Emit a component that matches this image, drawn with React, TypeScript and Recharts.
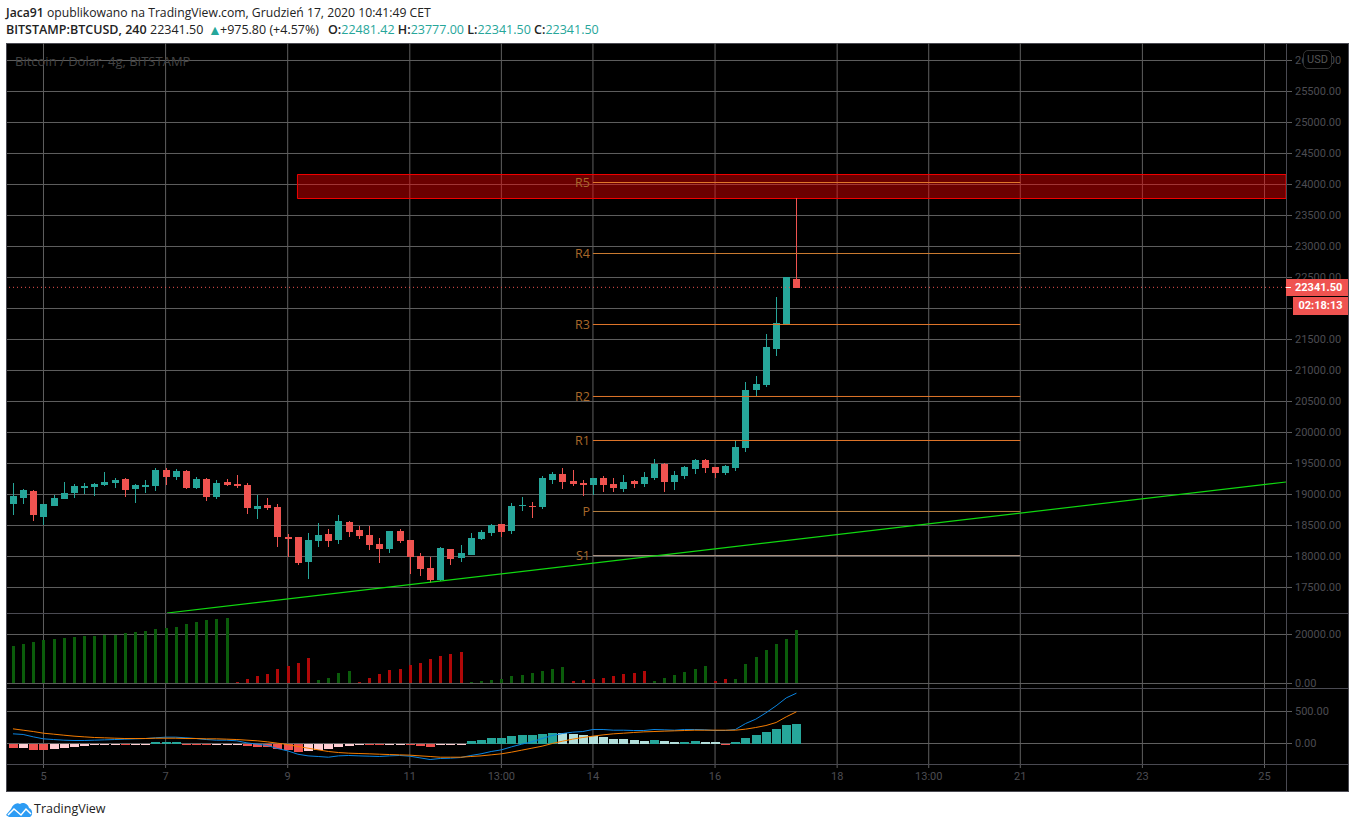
import React from "react";
import {
  ComposedChart, Bar, Line, XAxis, YAxis, CartesianGrid, ReferenceLine, ReferenceArea,
} from "recharts";

// bar index -> pixel: 12.975 + 10.175 * i
const X_DOMAIN = [-0.587, 125.113];
const TIME_TICKS = [3, 15, 27, 39, 48, 57, 69, 81, 90, 99, 111, 123];
const TIME_LABELS = ["5", "7", "9", "11", "13:00", "14", "16", "18", "13:00", "21", "23", "25"];

const PRICE_TICKS = [17500, 18000, 18500, 19000, 19500, 20000, 20500, 21000, 21500, 22000, 22500, 23000, 23500, 24000, 24500, 25000, 25500, 26000];
const VOLUME_TICKS = [0, 20000];
const MACD_TICKS = [0, 500];

const opens = [18850, 18946, 19054, 18634, 18817, 18925, 19022, 19102, 19118, 19151, 19183, 19247, 19086, 19118, 19134, 19392, 19280, 19376, 19102, 19247, 18957, 19199, 19167, 19151, 18763, 18828, 18796, 18312, 18312, 17909, 18247, 18360, 18264, 18554, 18425, 18344, 18199, 18118, 18409, 18264, 18005, 17812, 17618, 18118, 17973, 18022, 18280, 18376, 18522, 18409, 18812, 18812, 18796, 19231, 19328, 19215, 19183, 19151, 19263, 19167, 19086, 19215, 19167, 19263, 19489, 19199, 19296, 19409, 19554, 19441, 19344, 19425, 19747, 20683, 20764, 21344, 21747, 22481];
const highs = [19183, 19081, 19070, 18844, 18989, 19199, 19167, 19183, 19183, 19360, 19263, 19263, 19167, 19231, 19425, 19425, 19409, 19392, 19280, 19263, 19231, 19247, 19312, 19183, 18989, 18941, 18844, 18360, 18312, 18376, 18538, 18441, 18667, 18570, 18489, 18489, 18296, 18409, 18441, 18264, 18054, 17989, 18151, 18118, 18183, 18376, 18425, 18522, 18522, 18860, 18957, 18876, 19296, 19360, 19425, 19392, 19231, 19263, 19296, 19263, 19312, 19231, 19360, 19570, 19505, 19376, 19457, 19570, 19570, 19441, 19473, 19876, 20812, 20909, 21586, 22183, 22500, 23777];
const lows = [18672, 18833, 18575, 18500, 18817, 18925, 18946, 19005, 18973, 19134, 19102, 18957, 18860, 19022, 19054, 19151, 19231, 19086, 19086, 18892, 18925, 19134, 19102, 18683, 18602, 18747, 18151, 17989, 17860, 17635, 18151, 18151, 18199, 18312, 18280, 18102, 17893, 18054, 18215, 17715, 17683, 17570, 17602, 17860, 17909, 18022, 18264, 18328, 18312, 18360, 18731, 18618, 18763, 19167, 19086, 19134, 18973, 18989, 19038, 19038, 19038, 19102, 19118, 19231, 19038, 19070, 19247, 19328, 19344, 19263, 19312, 19376, 19683, 20586, 20732, 21231, 21731, 22328];
const closes = [18973, 19070, 18672, 18844, 18941, 19022, 19134, 19134, 19167, 19199, 19231, 19070, 19151, 19151, 19392, 19280, 19376, 19102, 19247, 18957, 19183, 19151, 19134, 18780, 18812, 18780, 18312, 18280, 17893, 18264, 18344, 18247, 18570, 18393, 18328, 18183, 18118, 18409, 18247, 17989, 17796, 17618, 18134, 17957, 18054, 18296, 18393, 18505, 18393, 18812, 18828, 18796, 19263, 19328, 19199, 19167, 19151, 19263, 19151, 19102, 19199, 19167, 19280, 19489, 19199, 19312, 19441, 19554, 19425, 19344, 19457, 19763, 20683, 20779, 21376, 21764, 22500, 22328];

const volumes = [15232, 16048, 16864, 17680, 18088, 18496, 18904, 19312, 19312, 19992, 19992, 20536, 20944, 21352, 22168, 22576, 22984, 24208, 25024, 25840, 26248, 26656, 544, 1768, 2992, 3808, 5848, 7072, 8296, 10336, 1360, 2176, 4216, 5032, 544, 2176, 3808, 5440, 5848, 7480, 8296, 9928, 11152, 11968, 12784, 544, 952, 1360, 1768, 2992, 3400, 4216, 5032, 5848, 6664, 952, 1360, 1768, 2176, 2992, 3808, 4216, 5032, 952, 2176, 3400, 4624, 5848, 7072, 952, 1768, 1768, 7888, 10744, 13600, 16048, 18088, 21760];
// g = green column, b = red column
const volumeTone = "ggggggggggggggggggggggbbbbbbbbggggbbbbbbbbbbbggggggggggbbbbbbbbggggggbbggggggg".split("");

const macdLine = [151, 141, 104, 73, 62, 52, 47, 47, 52, 57, 62, 68, 73, 78, 89, 99, 99, 89, 78, 62, 52, 52, 42, 10, -10, -31, -78, -115, -167, -193, -203, -214, -193, -187, -193, -198, -203, -193, -187, -198, -224, -250, -234, -229, -219, -187, -161, -125, -99, -52, -10, 26, 78, 125, 156, 177, 187, 219, 219, 208, 208, 203, 203, 219, 214, 208, 219, 219, 214, 203, 203, 219, 312, 380, 479, 589, 713, 786];
const signalLine = [229, 208, 187, 161, 146, 130, 115, 104, 94, 89, 83, 78, 78, 78, 83, 83, 83, 78, 78, 73, 73, 68, 62, 52, 42, 26, 5, -16, -47, -73, -99, -125, -141, -151, -156, -161, -167, -172, -177, -182, -193, -203, -214, -214, -214, -203, -193, -177, -161, -135, -104, -73, -42, 0, 36, 68, 94, 115, 135, 151, 161, 172, 182, 187, 193, 198, 203, 208, 208, 208, 208, 208, 224, 250, 281, 328, 417, 495];
const macdHist = [-73, -73, -104, -104, -89, -73, -57, -42, -26, -26, -10, -10, -10, -10, 21, 21, 21, -10, -10, -26, -26, -26, -26, -42, -57, -57, -89, -104, -135, -120, -104, -89, -57, -42, -26, -26, -26, -10, -10, -26, -42, -57, -26, -26, -10, 36, 52, 83, 83, 115, 130, 130, 156, 161, 161, 146, 130, 115, 99, 68, 68, 52, 36, 52, 36, 21, 21, 36, 21, 21, -10, 21, 83, 130, 177, 224, 286, 302];
// T teal, t light teal, R red, r pink
const macdTone = "RrRRrrrrrrrRrrTTTRRRrrrRRRRRRrrrrrrRRrrRRRrrrTTTTTTTTTtttttttttTttTTttRTTTTTTT".split("");

const PIVOTS = [
  { name: "R5", price: 24032, color: "#e0762a" },
  { name: "R4", price: 22887, color: "#c97a30" },
  { name: "R3", price: 21742, color: "#e0762a" },
  { name: "R2", price: 20581, color: "#e0762a" },
  { name: "R1", price: 19871, color: "#e0762a" },
  { name: "P", price: 18726, color: "#b8803f" },
  { name: "S1", price: 18016, color: "#a89080" },
];

const GRID = "#5f5f5f";
const FRAME = "#4a4a52";
const AXIS_TEXT = "#4c4c52";
const TEAL = "#26a69a";
const RED = "#ef5350";
const FONT = "'Open Sans', sans-serif";
const AXIS_FONT = "Roboto, sans-serif";

const idx = closes.map((_, i) => i);
const priceData = idx.map(i => ({ i, range: [lows[i], highs[i]], o: opens[i], h: highs[i], l: lows[i], c: closes[i] }));
const volumeData = idx.map(i => ({ i, v: volumes[i], tone: volumeTone[i] }));
const macdData = idx.map(i => ({ i, hist: macdHist[i], macd: macdLine[i], signal: signalLine[i], tone: macdTone[i] }));

const toneColor: Record<string, string> = { T: TEAL, t: "#b2dfdb", R: RED, r: "#ffcdd2", g: "#0b5c0b", b: "#b00808" };

function Candle(props: any) {
  const { x, y, width, height, payload } = props;
  const { o, h, l, c } = payload;
  const color = c >= o ? TEAL : RED;
  const k = height / (h - l);
  const bodyTop = Math.round(y + (h - Math.max(o, c)) * k);
  const bodyBottom = Math.round(y + (h - Math.min(o, c)) * k);
  const col = Math.floor(x + width / 2);
  return (
    <g>
      <rect x={col} y={Math.round(y)} width={1} height={Math.round(height)} fill={color} />
      <rect x={col - 3} y={bodyTop} width={7} height={Math.max(bodyBottom - bodyTop, 1)} fill={color} />
    </g>
  );
}

// snaps a column to whole pixels, like the crisp bars in the original
function PixelBar(props: any) {
  const { x, y, width, height, payload } = props;
  const top = Math.round(Math.min(y, y + height));
  const bottom = Math.round(Math.max(y, y + height));
  const left = Math.floor(x + width / 2) - Math.floor(width / 2);
  return <rect x={left} y={top} width={width} height={Math.max(bottom - top, 1)} fill={toneColor[payload.tone]} />;
}

const yTick = { fill: AXIS_TEXT, fontSize: 11, fontFamily: AXIS_FONT };
const fmt = (v: number) => v.toFixed(2);

function PricePane() {
  return (
    <ComposedChart width={1341} height={570} data={priceData} margin={{ top: 0, right: 0, bottom: 0, left: 0 }}>
      <CartesianGrid stroke={GRID} verticalValues={TIME_TICKS} horizontalValues={PRICE_TICKS} />
      <XAxis dataKey="i" type="number" domain={X_DOMAIN} ticks={TIME_TICKS} hide />
      <YAxis orientation="right" width={62} domain={[17088.6, 26282.2]} ticks={PRICE_TICKS} interval={0} axisLine={false}
        tickFormatter={fmt} tick={yTick} tickLine={{ stroke: GRID }} tickSize={6} tickMargin={3} />
      {PIVOTS.map(p => (
        <ReferenceLine key={p.name} stroke={p.color} strokeWidth={1}
          segment={[{ x: 57, y: p.price }, { x: 99, y: p.price }]}
          label={{ value: p.name, position: "left", offset: 3, fill: "#a8682a", fontSize: 12.5, fontFamily: FONT }} />
      ))}
      <ReferenceLine stroke="#10d810" strokeWidth={1.2} segment={[{ x: 15.14, y: 17088.6 }, { x: 125.113, y: 19201.5 }]} />
      <ReferenceLine y={22341.5} stroke={RED} strokeDasharray="1 3" />
      <ReferenceArea x1={27.96} x2={125.113} y1={23774} y2={24161} fill="#ff0000" fillOpacity={0.42} stroke="#f00000" strokeOpacity={1} />
      <Bar dataKey="range" barSize={7} shape={<Candle />} isAnimationActive={false} />
    </ComposedChart>
  );
}

function VolumePane() {
  return (
    <ComposedChart width={1341} height={75} data={volumeData} margin={{ top: 0, right: 0, bottom: 0, left: 0 }}>
      <CartesianGrid stroke={GRID} verticalValues={TIME_TICKS} horizontalValues={VOLUME_TICKS} />
      <XAxis dataKey="i" type="number" domain={X_DOMAIN} ticks={TIME_TICKS} hide />
      <YAxis orientation="right" width={62} domain={[-1837, 28775]} ticks={VOLUME_TICKS} interval={0} axisLine={false}
        tickFormatter={fmt} tick={yTick} tickLine={{ stroke: GRID }} tickSize={6} tickMargin={3} />
      <Bar dataKey="v" barSize={3} shape={<PixelBar />} isAnimationActive={false} />
    </ComposedChart>
  );
}

function MacdPane() {
  return (
    <ComposedChart width={1341} height={103} data={macdData} margin={{ top: 0, right: 0, bottom: 0, left: 0 }}>
      <CartesianGrid stroke={GRID} verticalValues={TIME_TICKS} horizontalValues={MACD_TICKS} />
      <XAxis dataKey="i" type="number" domain={X_DOMAIN} ticks={TIME_TICKS} interval={0} height={27} axisLine={false}
        tickFormatter={(v: number) => TIME_LABELS[TIME_TICKS.indexOf(v)]}
        tick={yTick} tickLine={{ stroke: GRID }} tickSize={4} tickMargin={4} />
      <YAxis orientation="right" width={62} domain={[-320, 867]} ticks={MACD_TICKS} interval={0} axisLine={false}
        tickFormatter={fmt} tick={yTick} tickLine={{ stroke: GRID }} tickSize={6} tickMargin={3} />
      <Bar dataKey="hist" barSize={9} shape={<PixelBar />} isAnimationActive={false} />
      <Line dataKey="macd" stroke="#0a84e0" strokeWidth={1} dot={false} isAnimationActive={false} />
      <Line dataKey="signal" stroke="#f57c00" strokeWidth={1} dot={false} isAnimationActive={false} />
    </ComposedChart>
  );
}

const abs = (left: number, top: number, extra: React.CSSProperties = {}): React.CSSProperties => ({
  position: "absolute", left, top, ...extra,
});

export default function App() {
  return (
    <div style={abs(0, 0, { width: 1355, height: 828, background: "#fff", overflow: "hidden", fontFamily: FONT })}>
      <div style={abs(6, 4, { fontSize: 12.2, color: "#222", whiteSpace: "nowrap" })}>
        <b style={{ fontWeight: 600 }}>Jaca91</b> opublikowano na TradingView.com, Grudzień 17, 2020 10:41:49 CET
      </div>
      <div style={abs(6, 21, { fontSize: 12.5, color: "#222", whiteSpace: "nowrap" })}>
        <b style={{ fontWeight: 600 }}>BITSTAMP:BTCUSD, 240</b>
        <span style={abs(144, 0)}>22341.50</span>
        <span style={abs(202, -1, { color: TEAL, fontSize: 14 })}>▲</span>
        <span style={abs(214, 0)}>+975.80 (+4.57%)</span>
        <span style={abs(322, 0)}>
          <b style={{ fontWeight: 600 }}>O:</b><span style={{ color: TEAL }}>22481.42</span>{" "}
          <b style={{ fontWeight: 600 }}>H:</b><span style={{ color: TEAL }}>23777.00</span>{" "}
          <b style={{ fontWeight: 600 }}>L:</b><span style={{ color: TEAL }}>22341.50</span>{" "}
          <b style={{ fontWeight: 600 }}>C:</b><span style={{ color: TEAL }}>22341.50</span>
        </span>
      </div>

      <div style={abs(6, 43, { width: 1341, height: 747, background: "#000", border: `1px solid ${FRAME}` })} />
      <div style={abs(7, 43)}><PricePane /></div>
      <div style={abs(7, 613)}><VolumePane /></div>
      <div style={abs(7, 688)}><MacdPane /></div>
      <div style={abs(7, 613, { width: 1341, height: 1, background: FRAME })} />
      <div style={abs(7, 688, { width: 1341, height: 1, background: FRAME })} />
      <div style={abs(7, 764, { width: 1341, height: 1, background: FRAME })} />
      <div style={abs(1286, 44, { width: 1, height: 747, background: FRAME })} />

      <div style={abs(15, 52, { fontSize: 13, color: "#444", whiteSpace: "nowrap" })}>Bitcoin / Dolar, 4g, BITSTAMP</div>
      <div style={abs(1303, 50, { width: 27, height: 17, lineHeight: "17px", textAlign: "center", fontSize: 11, fontFamily: AXIS_FONT, color: "#555", background: "#000", border: "1px solid #333", borderRadius: 5 })}>USD</div>
      <div style={abs(1286, 279, { width: 53, paddingLeft: 9, height: 17, lineHeight: "17px", fontSize: 11, fontFamily: AXIS_FONT, fontWeight: 700, color: "#fff", background: RED })}>22341.50</div>
      <div style={abs(1286, 287, { width: 5, height: 1, background: "#fff" })} />
      <div style={abs(1293, 297, { width: 55, height: 18, lineHeight: "18px", textAlign: "center", fontSize: 11, fontFamily: AXIS_FONT, fontWeight: 700, color: "#fff", background: RED })}>02:18:13</div>

      <svg style={abs(6, 802)} width={27} height={16} viewBox="0 0 27 16">
        <path d="M0 13 L5 7 C7 2 11 0 14 2 C16 0 22 1 23 6 C27 7 27 14 24 15 L3 15 Z" fill="#2d9cf4" />
        <path d="M2 13 L8 7 L15 13 L20 7 L25 12" fill="none" stroke="#fff" strokeWidth={1.5} />
      </svg>
      <div style={abs(34, 800, { fontSize: 12.5, color: "#222" })}>TradingView</div>
    </div>
  );
}
